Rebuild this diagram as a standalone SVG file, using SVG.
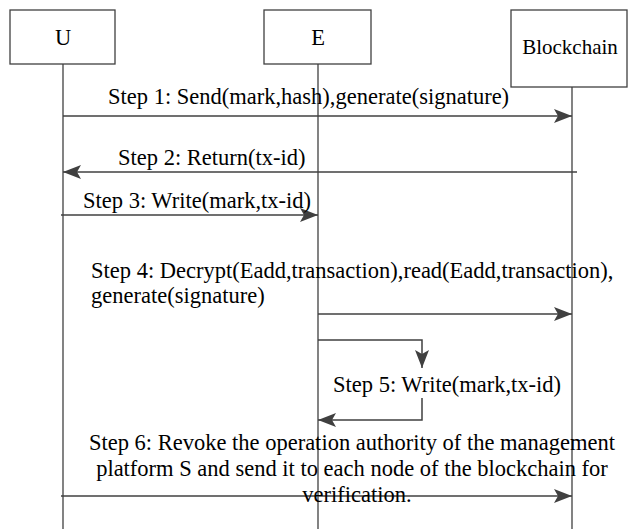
<svg xmlns="http://www.w3.org/2000/svg" width="633" height="529" viewBox="0 0 633 529">
<defs>
<marker id="ah" viewBox="0 0 18 14" refX="18" refY="7" markerWidth="18" markerHeight="14" markerUnits="userSpaceOnUse" orient="auto">
<path d="M0,0 L18,7 L0,14 L4,7 Z" fill="#404040"/>
</marker>
</defs>
<rect width="633" height="529" fill="#fff"/>
<g id="lifelines" stroke="#404040" stroke-width="1.3" fill="none">
<line x1="63" y1="64" x2="63" y2="529"/>
<line x1="318" y1="64" x2="318" y2="529"/>
<line x1="572" y1="87" x2="572" y2="529"/>
</g>
<g id="node-U"><rect x="10" y="10" width="105" height="54" fill="#fff" stroke="#404040" stroke-width="1.3"/><text x="63" y="45" text-anchor="middle" font-family="'Liberation Serif', serif" font-size="22.5">U</text></g>
<g id="node-E"><rect x="264" y="10" width="107" height="54" fill="#fff" stroke="#404040" stroke-width="1.3"/><text x="318" y="45" text-anchor="middle" font-family="'Liberation Serif', serif" font-size="22.5">E</text></g>
<g id="node-B"><rect x="511" y="10" width="116" height="77" fill="#fff" stroke="#404040" stroke-width="1.3"/><text x="570" y="54" text-anchor="middle" font-family="'Liberation Serif', serif" font-size="21">Blockchain</text></g>
<g id="connectors" stroke="#404040" stroke-width="1.5" fill="none">
<line x1="63" y1="116" x2="572" y2="116" marker-end="url(#ah)"/>
<line x1="577" y1="172" x2="63" y2="172" marker-end="url(#ah)"/>
<line x1="61" y1="215" x2="318" y2="215" marker-end="url(#ah)"/>
<line x1="318" y1="314" x2="572" y2="314" marker-end="url(#ah)"/>
<polyline points="318,340 422,340 422,368" marker-end="url(#ah)"/>
<polyline points="422,398 422,420 318,420" marker-end="url(#ah)"/>
<line x1="61" y1="496" x2="572" y2="496" marker-end="url(#ah)"/>
</g>
<g id="labels" font-family="'Liberation Serif', serif" font-size="22.5" fill="#000">
<text x="108" y="104">Step 1: Send(mark,hash),generate(signature)</text>
<text x="118" y="165">Step 2: Return(tx-id)</text>
<text x="83" y="208">Step 3: Write(mark,tx-id)</text>
<text x="91" y="278">Step 4: Decrypt(Eadd,transaction),read(Eadd,transaction),</text>
<text x="91" y="303">generate(signature)</text>
<text x="333" y="392">Step 5: Write(mark,tx-id)</text>
<text x="352" y="450" text-anchor="middle">Step 6: Revoke the operation authority of the management</text>
<text x="352" y="476" text-anchor="middle">platform S and send it to each node of the blockchain for</text>
<text x="357" y="502" text-anchor="middle">verification.</text>
</g>
</svg>
